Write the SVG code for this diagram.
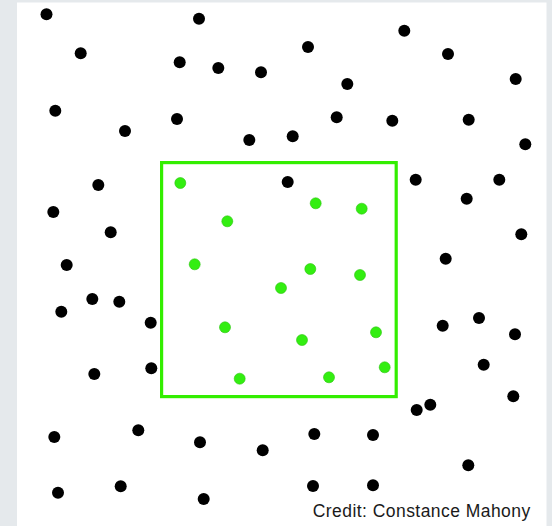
<svg xmlns="http://www.w3.org/2000/svg" width="552" height="526" viewBox="0 0 552 526">
<style>
.b{fill:#000}
.g{fill:#33ee11;stroke:#2bc40f;stroke-width:0.6}
.frame{fill:none;stroke:#33ee00;stroke-width:3.2}
.credit{font-family:"Liberation Sans",Arial,sans-serif;font-size:17.5px;fill:#1a1a1a}
</style>
<rect x="0" y="0" width="552" height="526" fill="#e5e9ec"/>
<rect x="17" y="2.5" width="529.5" height="523.5" fill="#ffffff"/>
<g id="region">
<rect class="frame" x="161.6" y="162.6" width="234.6" height="234"/>
</g>
<g id="black-dots">
<circle class="b" cx="46.5" cy="14.3" r="6"/>
<circle class="b" cx="199" cy="18.7" r="6"/>
<circle class="b" cx="80.7" cy="53.3" r="6"/>
<circle class="b" cx="179.7" cy="62.3" r="6"/>
<circle class="b" cx="218.3" cy="68" r="6"/>
<circle class="b" cx="261" cy="72.3" r="6"/>
<circle class="b" cx="55.3" cy="110.7" r="6"/>
<circle class="b" cx="125" cy="131" r="6"/>
<circle class="b" cx="177" cy="119" r="6"/>
<circle class="b" cx="249.3" cy="140" r="6"/>
<circle class="b" cx="308" cy="47" r="6"/>
<circle class="b" cx="404.3" cy="30.7" r="6"/>
<circle class="b" cx="448" cy="54" r="6"/>
<circle class="b" cx="347.3" cy="84" r="6"/>
<circle class="b" cx="515.7" cy="79" r="6"/>
<circle class="b" cx="336.7" cy="117.3" r="6"/>
<circle class="b" cx="392.3" cy="120.7" r="6"/>
<circle class="b" cx="468.7" cy="119.7" r="6"/>
<circle class="b" cx="292.7" cy="136.3" r="6"/>
<circle class="b" cx="525.3" cy="144.3" r="6"/>
<circle class="b" cx="98.3" cy="185" r="6"/>
<circle class="b" cx="53.3" cy="212" r="6"/>
<circle class="b" cx="110.7" cy="232.3" r="6"/>
<circle class="b" cx="66.7" cy="265" r="6"/>
<circle class="b" cx="92.3" cy="299" r="6"/>
<circle class="b" cx="119.3" cy="301.7" r="6"/>
<circle class="b" cx="61.3" cy="311.7" r="6"/>
<circle class="b" cx="150.7" cy="322.7" r="6"/>
<circle class="b" cx="287.7" cy="182" r="6"/>
<circle class="b" cx="415.7" cy="179.7" r="6"/>
<circle class="b" cx="499.3" cy="179.7" r="6"/>
<circle class="b" cx="466.7" cy="198.7" r="6"/>
<circle class="b" cx="521.3" cy="234.3" r="6"/>
<circle class="b" cx="445.7" cy="258.7" r="6"/>
<circle class="b" cx="442.7" cy="325.7" r="6"/>
<circle class="b" cx="479" cy="318" r="6"/>
<circle class="b" cx="515" cy="334.3" r="6"/>
<circle class="b" cx="94.3" cy="374" r="6"/>
<circle class="b" cx="151.3" cy="368.3" r="6"/>
<circle class="b" cx="54.3" cy="437" r="6"/>
<circle class="b" cx="138.3" cy="430.3" r="6"/>
<circle class="b" cx="200" cy="442.3" r="6"/>
<circle class="b" cx="262.7" cy="450.3" r="6"/>
<circle class="b" cx="58" cy="492.7" r="6"/>
<circle class="b" cx="120.7" cy="486.3" r="6"/>
<circle class="b" cx="203.7" cy="499" r="6"/>
<circle class="b" cx="483.7" cy="364.7" r="6"/>
<circle class="b" cx="513.3" cy="396.3" r="6"/>
<circle class="b" cx="416.7" cy="410" r="6"/>
<circle class="b" cx="430.3" cy="404.7" r="6"/>
<circle class="b" cx="314.3" cy="434" r="6"/>
<circle class="b" cx="373" cy="435" r="6"/>
<circle class="b" cx="468.3" cy="465.3" r="6"/>
<circle class="b" cx="313" cy="486" r="6"/>
<circle class="b" cx="373" cy="485.3" r="6"/>
</g>
<g id="green-dots">
<circle class="g" cx="180.3" cy="183" r="5.5"/>
<circle class="g" cx="227.3" cy="221.3" r="5.5"/>
<circle class="g" cx="194.7" cy="264.3" r="5.5"/>
<circle class="g" cx="225" cy="327.3" r="5.5"/>
<circle class="g" cx="315.7" cy="203.3" r="5.5"/>
<circle class="g" cx="361.7" cy="208.7" r="5.5"/>
<circle class="g" cx="310.3" cy="269" r="5.5"/>
<circle class="g" cx="360" cy="275" r="5.5"/>
<circle class="g" cx="281" cy="288" r="5.5"/>
<circle class="g" cx="302" cy="340" r="5.5"/>
<circle class="g" cx="376" cy="332.3" r="5.5"/>
<circle class="g" cx="239.7" cy="378.7" r="5.5"/>
<circle class="g" cx="329" cy="377.3" r="5.5"/>
<circle class="g" cx="384.7" cy="367.3" r="5.5"/>
</g>
<text class="credit" x="312.7" y="517" textLength="217.5" lengthAdjust="spacing">Credit: Constance Mahony</text>
</svg>
